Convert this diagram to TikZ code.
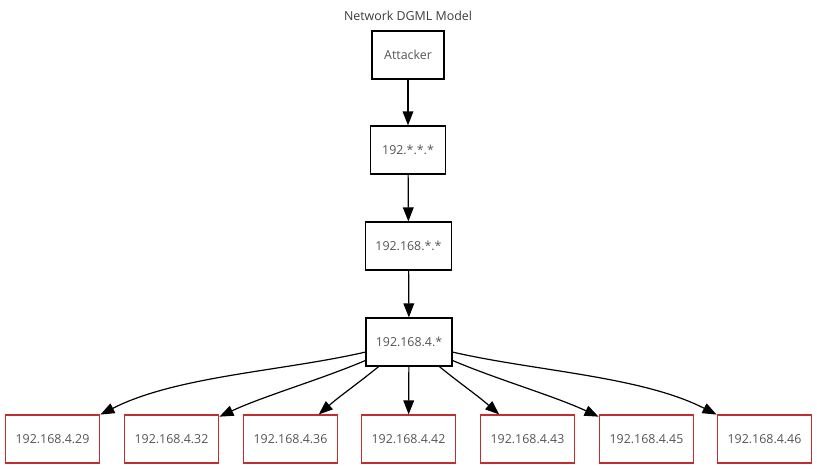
\documentclass[tikz,border=0pt]{standalone}
\usepackage{fontspec}
\setmainfont{Open Sans}
\usepackage{xcolor}
\usetikzlibrary{arrows.meta}
\definecolor{labelgray}{RGB}{85,85,85}
\definecolor{titlegray}{RGB}{60,60,60}
\definecolor{hostred}{RGB}{195,45,45}
\tikzset{netbox/.style={draw=black,line width=0.9pt,minimum height=36pt,inner sep=0pt,
   text=labelgray,font=\fontsize{9.3pt}{11pt}\selectfont},
 hostbox/.style={netbox,draw=hostred,minimum width=71pt},
 link/.style={line width=0.9pt,-{Triangle[length=10.5pt,width=8pt]}},
 }

\begin{document}
\begin{tikzpicture}[x=0.75pt,y=0.75pt]
        \useasboundingbox (0,0) rectangle (817,-468);
        \node[text=titlegray,font=\fontsize{9.3pt}{11pt}\selectfont] (title) at (408,-16) {Network DGML Model};
        \node[netbox,minimum width=54pt] (attacker) at (408,-55) {Attacker};
        \node[netbox,minimum width=56pt] (net192) at (408,-150) {192.*.*.*};
        \node[netbox,minimum width=65pt] (net168) at (408.5,-246) {192.168.*.*};
        \node[netbox,minimum width=64.5pt] (net4) at (409,-342) {192.168.4.*};
        \node[hostbox] (h29) at (52.5,-439) {192.168.4.29};
        \node[hostbox] (h32) at (171.5,-439) {192.168.4.32};
        \node[hostbox] (h36) at (290.5,-439) {192.168.4.36};
        \node[hostbox] (h42) at (408.5,-439) {192.168.4.42};
        \node[hostbox] (h43) at (527.5,-439) {192.168.4.43};
        \node[hostbox] (h45) at (646.5,-439) {192.168.4.45};
        \node[hostbox] (h46) at (764.5,-439) {192.168.4.46};
        \draw[link] (attacker) -- (net192);
        \draw[link] (net192) -- (net168);
        \draw[link] (net168) -- (net4);
        \draw[link] (net4) to[out=193,in=27,looseness=0.8] (h29);
        \draw[link] (net4) to[out=203,in=25,looseness=0.8] (h32);
        \draw[link] (net4) to[out=219,in=41] (h36);
        \draw[link] (net4) -- (h42);
        \draw[link] (net4) to[out=-39,in=139] (h43);
        \draw[link] (net4) to[out=-23,in=155,looseness=0.8] (h45);
        \draw[link] (net4) to[out=-13,in=153,looseness=0.8] (h46);
    \end{tikzpicture}
\end{document}
